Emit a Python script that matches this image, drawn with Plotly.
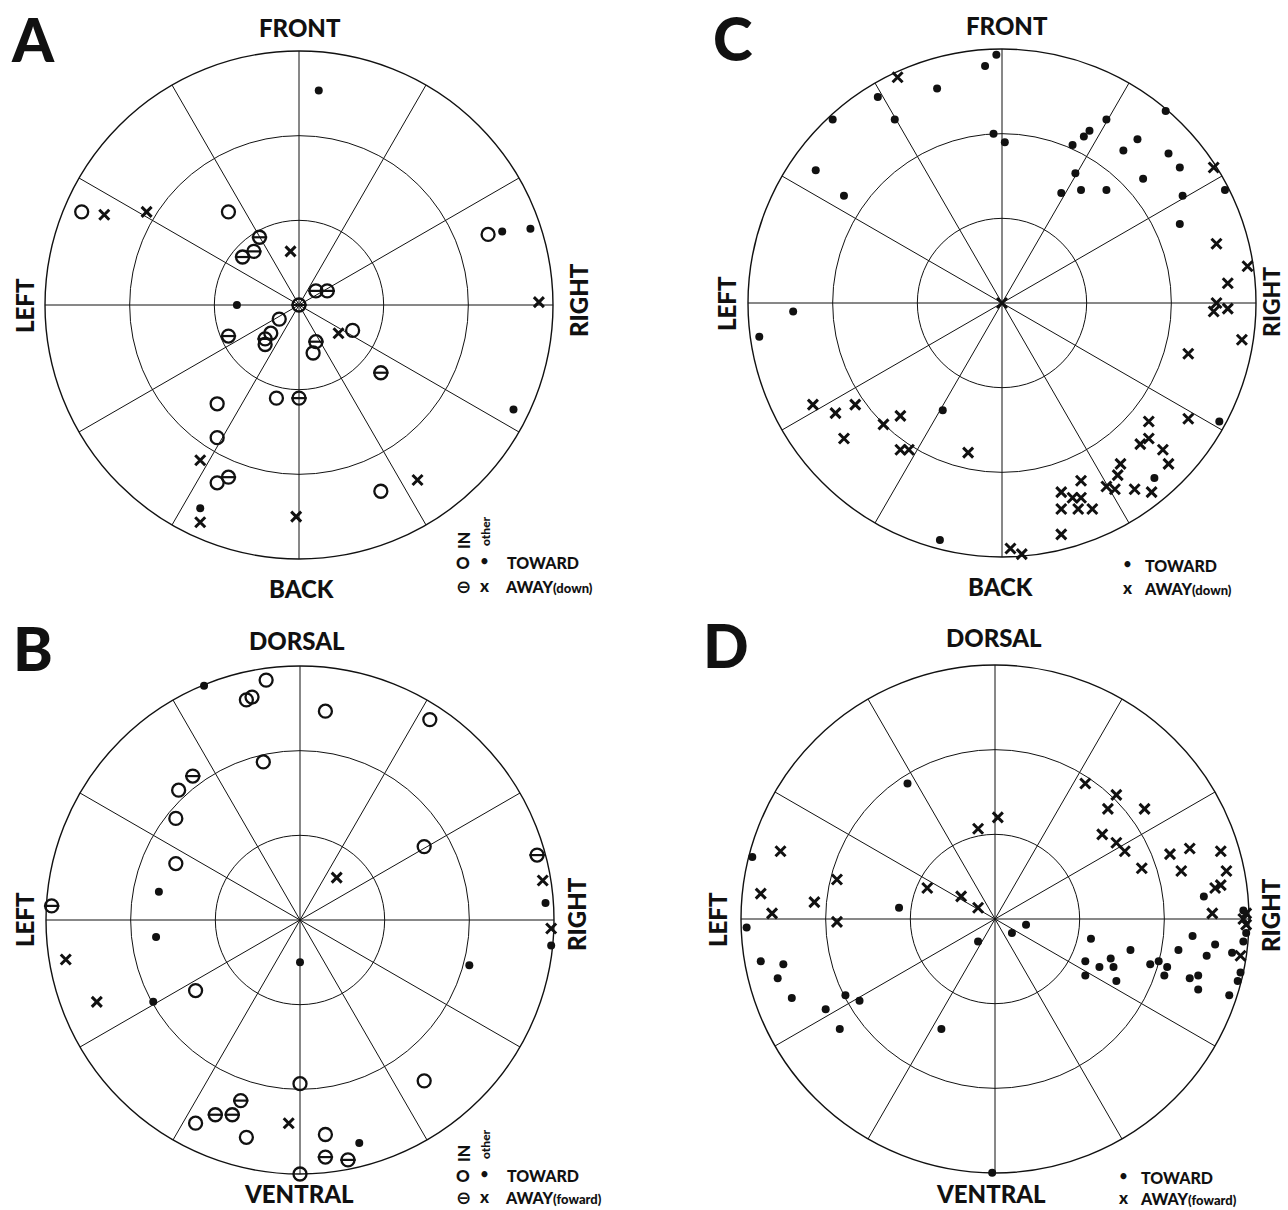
import numpy as np
import plotly.graph_objects as go

# ---------------- DATA ----------------
# Each point: x = rightward component, y = forward (front / dorsal) component,
# in units where the rings are 30, 60 and 90.

# Panel A  (FRONT / BACK / LEFT / RIGHT), legend: IN vs other, TOWARD vs AWAY(down)
A_in_toward_x = [-77, -25, -7, -10, -12, 19, 5, -8, -29, -29, -29, 67, 29]
A_in_toward_y = [33, 33, -5, -10, -14, -9, -17, -33, -35, -47, -63, 25, -66]
A_in_away_x = [-14, -20, -16, 0, 6, 10, -25, -12, 6, 29, 0, -25]
A_in_away_y = [24, 17, 19, 0, 5, 5, -11, -12, -13, -24, -33, -61]
A_other_toward_x = [7, -22, -35, 72, 82, 76]
A_other_toward_y = [76, 0, -72, 26, 27, -37]
A_other_away_x = [-69, -54, -3, 14, -35, -35, -1, 85, 42]
A_other_away_y = [32, 33, 19, -10, -55, -77, -75, 1, -62]

# Panel C  (FRONT / BACK), TOWARD vs AWAY(down)
C_toward_x = [-23, -44, -38, -60, -66, -56, -74, -86, -21, -22, -6, -2, -3, 1, 25, 29, 31,
              37, 26, 21, 28, 37, 43, 48, 50, 58, 59, 63, 64, 63, 79, 77, 54]
C_toward_y = [76, 73, 65, 65, 47, 38, -3, -12, -38, -84, 84, 88, 60, 57, 56, 59, 61,
              65, 46, 39, 40, 40, 54, 58, 44, 68, 53, 48, 38, 28, 40, -42, -62]
C_away_x = [-37, -67, -59, -52, -56, -42, -36, -36, -33, -12, 0, 75, 76, 87, 80, 76, 75, 80,
            85, 66, 66, 52, 49, 52, 57, 59, 42, 41, 37, 40, 47, 53, 28, 21, 25, 28, 21, 27,
            32, 21, 3, 7]
C_away_y = [80, -36, -39, -36, -48, -43, -40, -52, -52, -53, 0, 48, 21, 13, 7, 0, -3, -2,
            -13, -18, -41, -42, -50, -48, -52, -57, -57, -61, -65, -66, -66, -67, -63, -67,
            -69, -69, -73, -73, -73, -82, -87, -89]

# Panel B  (DORSAL / VENTRAL), IN vs other, TOWARD vs AWAY(foward)
B_in_toward_x = [-12, -19, -17, -13, -43, -44, -44, -37, 0, -37, -19, 0, 9, 46, 44, 44, 9]
B_in_toward_y = [85, 78, 79, 56, 46, 36, 20, -25, -58, -72, -77, -90, 74, 71, 26, -57, -76]
B_in_away_x = [-38, -88, -21, -30, -24, 84, 9, 17]
B_in_away_y = [51, 5, -64, -69, -69, 23, -84, -85]
B_other_toward_x = [-34, -50, -51, -52, 0, 87, 89, 60, 21]
B_other_toward_y = [83, 10, -6, -29, -15, 6, -9, -16, -79]
B_other_away_x = [-83, -72, -4, 13, 86, 89]
B_other_away_y = [-14, -29, -72, 15, 14, -3]

# Panel D  (DORSAL / VENTRAL), TOWARD vs AWAY(foward)
D_toward_x = [-31, -86, -34, -88, -83, -75, -77, -72, -60, -53, -48, -55, -19, 11, 6, -6, -1,
              74, 34, 32, 37, 41, 42, 32, 43, 48, 55, 58, 61, 60, 65, 70, 69, 72, 72, 75, 78,
              84, 83, 88, 89, 88, 87, 86]
D_toward_y = [48, 22, 4, -3, -15, -16, -21, -28, -32, -27, -29, -39, -39, -2, -5, -8, -89.9,
              8, -7, -15, -17, -14, -17, -20, -22, -11, -16, -15, -17, -20, -11, -6, -21, -20,
              -25, -13, -9, -12, -27, 3, -5, -8, -19, -22]
D_away_x = [-76, -56, -83, -79, -64, -56, -24, -12, 1, -6, -6, 32, 43, 40, 53, 38, 43, 46, 52,
            62, 69, 80, 66, 82, 78, 80, 77, 89, 88, 89, 87]
D_away_y = [24, 14, 9, 2, 6, -1, 11, 8, 36, 32, 4, 48, 44, 39, 39, 30, 27, 24, 18, 23, 25, 24,
            17, 17, 11, 12, 2, 2, 0, -2, -13]

RINGS = [30, 60]
RMAX = 90
SPOKES = list(range(0, 360, 30))

# ---------------- FIGURE ----------------
W, H = 1288, 1210
INK = "#111111"
FONT = "Lato"

fig = go.Figure()


def to_polar(x, y):
    x = np.asarray(x, float)
    y = np.asarray(y, float)
    return np.hypot(x, y), np.degrees(np.arctan2(y, x))


def add_series(sub, x, y, style):
    r, th = to_polar(x, y)
    common = dict(r=r, theta=th, mode="markers", subplot=sub, hoverinfo="skip",
                  showlegend=False, cliponaxis=False)
    if style in ("open", "bar"):
        fig.add_trace(go.Scatterpolar(**common, marker=dict(
            symbol="circle-open", size=13, color=INK, line=dict(width=2.3, color=INK))))
    if style == "bar":
        fig.add_trace(go.Scatterpolar(**common, marker=dict(
            symbol="line-ew", size=11, color=INK, line=dict(width=2.2, color=INK))))
    if style == "dot":
        fig.add_trace(go.Scatterpolar(**common, marker=dict(
            symbol="circle", size=8, color=INK, line=dict(width=0))))
    if style == "cross":
        fig.add_trace(go.Scatterpolar(**common, marker=dict(
            symbol="x-thin", size=10, color=INK, line=dict(width=3, color=INK))))


add_series("polar", A_in_toward_x, A_in_toward_y, "open")
add_series("polar", A_in_away_x, A_in_away_y, "bar")
add_series("polar", A_other_toward_x, A_other_toward_y, "dot")
add_series("polar", A_other_away_x, A_other_away_y, "cross")

add_series("polar2", C_toward_x, C_toward_y, "dot")
add_series("polar2", C_away_x, C_away_y, "cross")

add_series("polar3", B_in_toward_x, B_in_toward_y, "open")
add_series("polar3", B_in_away_x, B_in_away_y, "bar")
add_series("polar3", B_other_toward_x, B_other_toward_y, "dot")
add_series("polar3", B_other_away_x, B_other_away_y, "cross")

add_series("polar4", D_toward_x, D_toward_y, "dot")
add_series("polar4", D_away_x, D_away_y, "cross")


def polar_layout(cx, cy, R):
    return dict(
        domain=dict(x=[(cx - R) / W, (cx + R) / W], y=[1 - (cy + R) / H, 1 - (cy - R) / H]),
        bgcolor="white",
        angularaxis=dict(rotation=0, direction="counterclockwise", tickmode="array",
                         tickvals=SPOKES, showticklabels=False, ticks="", showgrid=True,
                         gridcolor=INK, gridwidth=1.2, showline=True, linecolor=INK,
                         linewidth=1.4),
        radialaxis=dict(range=[0, RMAX], tickmode="array", tickvals=RINGS,
                        showticklabels=False, ticks="", showgrid=True, gridcolor=INK,
                        gridwidth=1.2, showline=False),
    )


R = 254
fig.update_layout(
    polar=polar_layout(299, 305, R),
    polar2=polar_layout(1002, 303, R),
    polar3=polar_layout(300, 920, R),
    polar4=polar_layout(995, 919, R),
)

ann = []


def text(s, x, y, size, angle=0, anchor="center", family=FONT, weight=900):
    ann.append(dict(text=s, x=x / W, y=1 - y / H, xref="paper", yref="paper",
                    xanchor=anchor, yanchor="middle", showarrow=False, textangle=angle,
                    font=dict(family=family, size=size, color=INK, weight=weight)))


# panel letters
for s, x, y in [("A", 33, 39), ("C", 733, 38), ("B", 33, 648), ("D", 726, 645)]:
    text(s, x, y, 60)

# direction labels
LS = 24
text("FRONT", 300, 28, LS); text("BACK", 301, 588, LS)
text("LEFT", 24, 306, LS, -90); text("RIGHT", 578, 300, LS, -90)
text("FRONT", 1007, 25, LS); text("BACK", 1000, 586, LS)
text("LEFT", 727, 304, LS, -90); text("RIGHT", 1271, 302, 23, -90)
text("DORSAL", 297, 640, LS); text("VENTRAL", 299, 1193, LS)
text("LEFT", 24, 920, LS, -90); text("RIGHT", 577, 914, LS, -90)
text("DORSAL", 994, 637, LS); text("VENTRAL", 991, 1193, LS)
text("LEFT", 717, 920, LS, -90); text("RIGHT", 1270, 915, LS, -90)

SYM = "DejaVu Sans"


def legend_full(x0, ty, ay, away_word):
    text("IN", x0, ty - 21, 16, -90)
    text("other", x0 + 22, ty - 31, 12, -90)
    text("O", x0, ty, 17)
    text("•", x0 + 21, ty, 17, family=SYM, weight="bold")
    text("TOWARD", x0 + 42, ty, 16, anchor="left")
    text("⊖", x0, ay, 18, family=SYM, weight="bold")
    text("x", x0 + 21, ay - 1, 17)
    text("AWAY<span style='font-size:13px'>(%s)</span>" % away_word, x0 + 40, ay, 16,
         anchor="left")


def legend_short(x0, ty, ay, away_word):
    text("•", x0, ty, 17, family=SYM, weight="bold")
    text("TOWARD", x0 + 16, ty, 16, anchor="left")
    text("x", x0, ay - 1, 17)
    text("AWAY<span style='font-size:13px'>(%s)</span>" % away_word, x0 + 15, ay, 16,
         anchor="left")


legend_full(463, 562, 586, "down")
legend_full(463, 1175, 1197, "foward")
legend_short(1127, 565, 588, "down")
legend_short(1123, 1177, 1198, "foward")

fig.update_layout(
    width=W, height=H, margin=dict(l=0, r=0, t=0, b=0),
    paper_bgcolor="white", plot_bgcolor="white", showlegend=False,
    annotations=ann,
)

# remove the browser's default 8px body margin so the figure fills the window exactly
fig.write_html("out.html", config={"displayModeBar": False},
               post_script="document.body.style.margin='0';document.body.style.overflow='hidden';")
